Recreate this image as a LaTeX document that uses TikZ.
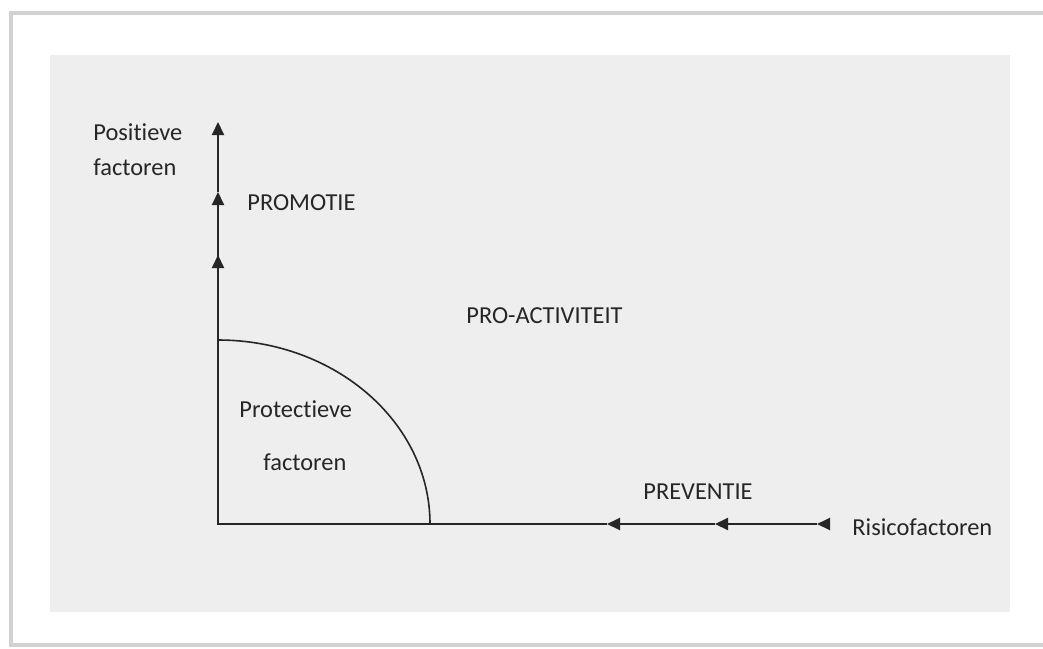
\documentclass[tikz,border=0pt]{standalone}
\usepackage{fontspec}
\setmainfont{Carlito}[Ligatures=NoCommon]
\usetikzlibrary{arrows.meta}
\definecolor{panelgray}{HTML}{EEEEEE}
\definecolor{framegray}{HTML}{D2D2D2}
\definecolor{txtgray}{HTML}{262626}

\begin{document}
\begin{tikzpicture}[x=0.5pt,y=-0.5pt,
                    lbl/.style={inner sep=0pt,anchor=base west,font=\fontsize{12.2}{14}\selectfont,text=txtgray},
                    axis/.style={draw=black!85,line width=1pt},
                    tip/.style={axis,-{Triangle[length=6.5pt,width=6pt]}}]
  \useasboundingbox (0,0) rectangle (1043,648);
  \fill[white] (0,0) rectangle (1043,648);
  \draw[framegray,line width=1.8pt] (1043,13) -- (11,13) -- (11,645) -- (1043,645);
  \fill[panelgray] (50,55) rectangle (1010,612);

  \coordinate (o)  at (218,524);
  \coordinate (v1) at (218,255);
  \coordinate (v2) at (218,192);
  \coordinate (v3) at (218,122);
  \coordinate (h1) at (607,524);
  \coordinate (h2) at (715,524);
  \coordinate (h3) at (817,524);
  \coordinate (h4) at (829,524);
  \coordinate (ax) at (430,524);
  \coordinate (ay) at (218,340);

  \draw[axis] (v1)--(o)--(h1);
  \draw[tip] (v1)--(v2);
  \draw[tip] (v2)--(v3);
  \draw[tip] (o)--(v1);
  \draw[tip] (h4)--(h3);
  \draw[tip] (h3)--(h2);
  \draw[tip] (h2)--(h1);
  \draw[black!85,line width=0.8pt] (ax) arc[start angle=0,end angle=90,x radius=212,y radius=-184];

  \node[lbl] (pos)  at (93,140)  {Positieve};
  \node[lbl] (posf) at (93,175)  {factoren};
  \node[lbl] (prom) at (247,210) {PROMOTIE};
  \node[lbl] (pro)  at (466,323) {PRO-ACTIVITEIT};
  \node[lbl] (prot) at (239,417) {Protectieve};
  \node[lbl] (protf) at (263,470) {factoren};
  \node[lbl] (prev) at (643,499) {PREVENTIE};
  \node[lbl] (risk) at (852,535) {Risicofactoren};
\end{tikzpicture}
\end{document}
